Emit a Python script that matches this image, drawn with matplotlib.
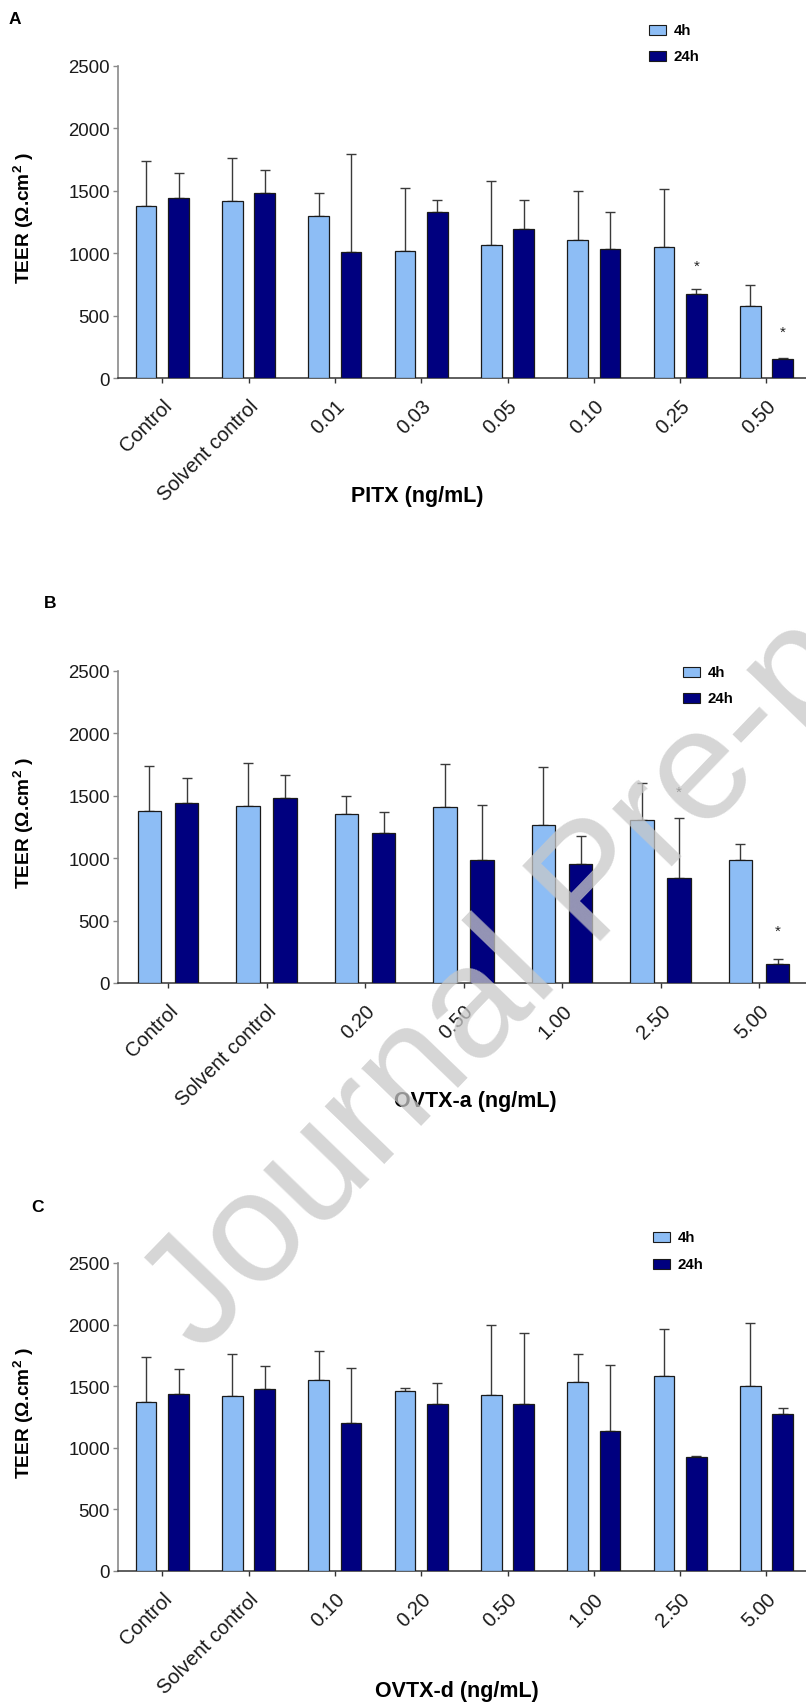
import matplotlib
matplotlib.use('Agg')
import matplotlib.pyplot as plt
import numpy as np
from matplotlib.transforms import ScaledTranslation
from matplotlib.patches import Rectangle

plt.rcParams['font.family'] = ['Liberation Sans', 'DejaVu Sans']
plt.rcParams['mathtext.fontset'] = 'custom'
plt.rcParams['mathtext.rm'] = 'Liberation Sans:bold'
plt.rcParams['mathtext.default'] = 'rm'

# ---------------- data ----------------
cats_A = ['Control', 'Solvent control', '0.01', '0.03', '0.05', '0.10', '0.25', '0.50']
mean4_A = [1375, 1418, 1294, 1019, 1067, 1104, 1048, 580]
sd4_A = [365, 345, 185, 505, 511, 396, 465, 165]
mean24_A = [1440, 1481, 1005, 1329, 1190, 1032, 676, 150]
sd24_A = [200, 184, 786, 93, 235, 297, 36, 7]
stars_A = {6: 900, 7: 369}

cats_B = ['Control', 'Solvent control', '0.20', '0.50', '1.00', '2.50', '5.00']
mean4_B = [1377, 1418, 1350, 1411, 1262, 1302, 985]
sd4_B = [363, 346, 147, 342, 470, 301, 125]
mean24_B = [1440, 1482, 1198, 985, 952, 838, 152]
sd24_B = [200, 184, 173, 442, 227, 485, 43]
stars_B = {5: 1527, 6: 419}

cats_C = ['Control', 'Solvent control', '0.10', '0.20', '0.50', '1.00', '2.50', '5.00']
mean4_C = [1375, 1418, 1549, 1459, 1427, 1538, 1584, 1503]
sd4_C = [365, 345, 237, 27, 573, 221, 381, 508]
mean24_C = [1440, 1481, 1205, 1354, 1359, 1138, 922, 1273]
sd24_C = [200, 184, 446, 176, 571, 532, 13, 49]
stars_C = {}

xlabels = ['PITX (ng/mL)', 'OVTX-a (ng/mL)', 'OVTX-d (ng/mL)']
letters = ['A', 'B', 'C']
series_names = ['4h', '24h']
yticks = [0, 500, 1000, 1500, 2000, 2500]

# ---------------- style ----------------
W, H = 806, 1708
C4 = '#8DBDF5'
C24 = '#00007F'
EDGE = '#1a1a1a'
ECOL = '#3a3a3a'
GRAY = '#8a8a8a'

def fx(x):
    return x / W

def fy(y):
    return 1 - y / H

fig = plt.figure(figsize=(W / 100, H / 100), dpi=100)

panels = [
    dict(cats=cats_A, m4=mean4_A, s4=sd4_A, m24=mean24_A, s24=sd24_A, stars=stars_A,
         top=66.7, bot=379.0, t0=162.3, step=86.3, leg=(649, 31, 57),
         xl=(417, 497), let=(15, 19)),
    dict(cats=cats_B, m4=mean4_B, s4=sd4_B, m24=mean24_B, s24=sd24_B, stars=stars_B,
         top=671.7, bot=984.0, t0=168.0, step=98.5, leg=(683, 673, 699),
         xl=(475, 1101), let=(50, 604)),
    dict(cats=cats_C, m4=mean4_C, s4=sd4_C, m24=mean24_C, s24=sd24_C, stars=stars_C,
         top=1264.0, bot=1572.0, t0=162.3, step=86.3, leg=(653, 1238, 1265),
         xl=(457, 1692), let=(38, 1208)),
]

axL = 118
width = 0.24
off = 0.188
for p, xl_txt, letter in zip(panels, xlabels, letters):
    ax = fig.add_axes([fx(axL), fy(p['bot']), (W - axL) / W, (p['bot'] - p['top']) / H])
    n = len(p['cats'])
    x = np.arange(n)
    ax.bar(x - off, p['m4'], width, color=C4, edgecolor=EDGE, linewidth=0.9, zorder=3)
    ax.bar(x + off, p['m24'], width, color=C24, edgecolor=EDGE, linewidth=0.9, zorder=3)
    ax.errorbar(x - off, p['m4'], yerr=[np.zeros(n), p['s4']], fmt='none', ecolor=ECOL,
                elinewidth=1.0, capsize=3.3, capthick=1.0, zorder=2)
    ax.errorbar(x + off, p['m24'], yerr=[np.zeros(n), p['s24']], fmt='none', ecolor=ECOL,
                elinewidth=1.0, capsize=3.3, capthick=1.0, zorder=2)
    for i, v in p['stars'].items():
        ax.text(i + off, v, '*', ha='center', va='center', fontsize=11, color='#222222')
    left = (axL - p['t0']) / p['step']
    right = left + (W - axL) / p['step']
    ax.set_xlim(left, right)
    ax.set_ylim(0, 2500)
    ax.set_yticks(yticks)
    ax.set_yticklabels([str(t) for t in yticks])
    ax.set_xticks(x)
    ax.set_xticklabels(p['cats'], rotation=45, ha='right', va='top', rotation_mode='anchor',
                       fontsize=14.5, color='#1a1a1a')
    for lbl in ax.get_xticklabels():
        lbl.set_transform(lbl.get_transform() + ScaledTranslation(6 / 100, 0, fig.dpi_scale_trans))
    ax.tick_params(axis='y', length=3.6, width=1.0, color=GRAY, pad=2.2, labelsize=13.4,
                   labelcolor='#1a1a1a')
    ax.tick_params(axis='x', length=3.6, width=1.0, color='#333333', pad=9)
    for s in ['top', 'right']:
        ax.spines[s].set_visible(False)
    ax.spines['left'].set_color(GRAY)
    ax.spines['left'].set_linewidth(1.2)
    ax.spines['bottom'].set_color('#333333')
    ax.spines['bottom'].set_linewidth(1.1)
    ax.set_zorder(1)

    # y label
    fig.text(fx(24), fy((p['top'] + p['bot']) / 2 - 5), 'TEER (Ω.cm$^{2}$ )', rotation=90,
             ha='center', va='center', fontsize=13.8, fontweight='bold')
    # x label
    fig.text(fx(p['xl'][0]), fy(p['xl'][1]), xl_txt, ha='center', va='center',
             fontsize=15.5, fontweight='bold')
    # panel letter
    fig.text(fx(p['let'][0]), fy(p['let'][1]), letter, ha='center', va='center',
             fontsize=12.5, fontweight='bold')
    # legend
    lx, y1, y2 = p['leg']
    for yy, col, name in zip((y1, y2), (C4, C24), series_names):
        fig.patches.append(Rectangle((fx(lx), fy(yy + 5)), 16.7 / W, 10 / H,
                                     transform=fig.transFigure, facecolor=col,
                                     edgecolor=EDGE, linewidth=0.8))
        fig.text(fx(lx + 25), fy(yy), name, ha='left', va='center', fontsize=10.8,
                 fontweight='bold')

# watermark
fig.text(fx(200), fy(1355), 'Journal Pre-proof', rotation=46, rotation_mode='anchor',
         ha='left', va='baseline', fontsize=114, color='#c8c8c8', alpha=0.75, zorder=10)

fig.savefig('out.png', dpi=100)
